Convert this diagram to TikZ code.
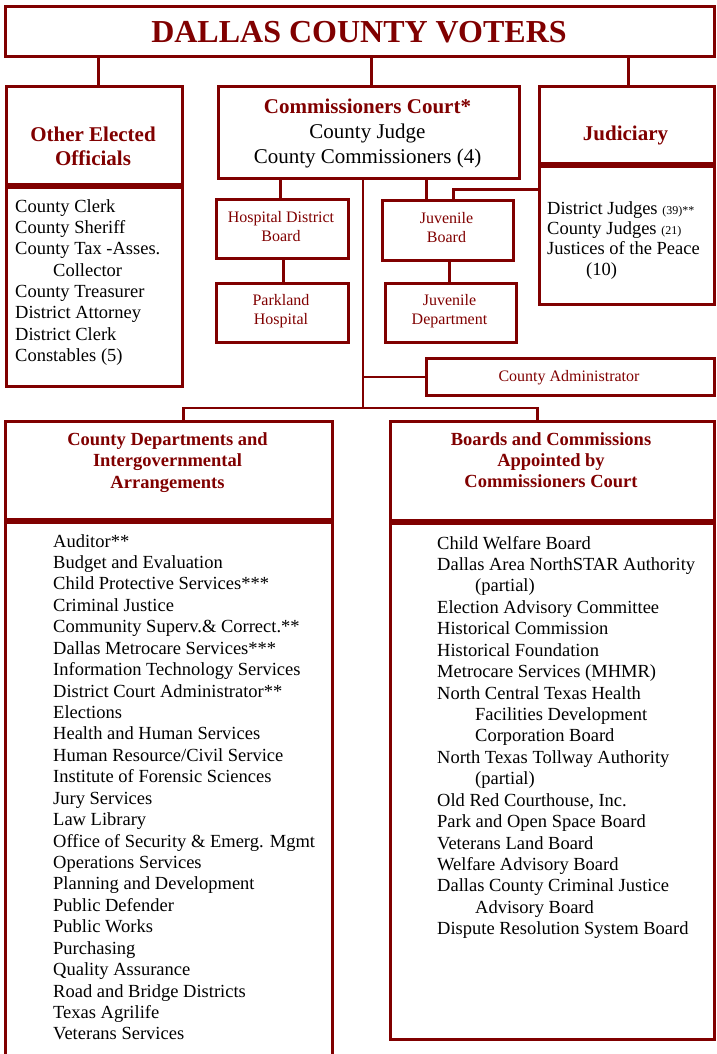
\documentclass[tikz,border=0pt]{standalone}
\usepackage{fontspec}
\setmainfont{Liberation Serif}
\definecolor{mar}{RGB}{128,0,0}
\begin{document}
\begin{tikzpicture}[x=1pt,y=-1pt,
  box/.style={draw=mar, line width=2.6pt, inner sep=0pt, anchor=north west, fill=none},
  conn/.style={draw=mar, line width=2.6pt},
  lt/.style={font=\fontsize{18.5}{21.4}\selectfont, anchor=base west, inner sep=0pt},
  hd/.style={font=\fontsize{21}{25}\selectfont\bfseries, text=mar, anchor=base, inner sep=0pt},
  hs/.style={font=\fontsize{18.5}{21.4}\selectfont\bfseries, text=mar, anchor=base, inner sep=0pt},
  bl/.style={font=\fontsize{21}{25}\selectfont, anchor=base, inner sep=0pt},
  sm/.style={font=\fontsize{16}{19}\selectfont, text=mar, anchor=base, inner sep=0pt}]
\useasboundingbox (0,0) rectangle (716,1054);
% boxes
\node[box, minimum width=709pt, minimum height=50pt] (title) at (4,5) {};
\node[box, minimum width=176pt, minimum height=98pt] (oeh) at (5,85) {};
\node[box, minimum width=176pt, minimum height=199pt] (oel) at (5,186) {};
\node[box, minimum width=301pt, minimum height=92pt] (comm) at (217,85) {};
\node[box, minimum width=175pt, minimum height=77pt] (judh) at (538,85) {};
\node[box, minimum width=175pt, minimum height=138pt] (judl) at (538,165) {};
\node[box, minimum width=132pt, minimum height=59pt] (hosp) at (215,198) {};
\node[box, minimum width=132pt, minimum height=59pt] (park) at (215,282) {};
\node[box, minimum width=131pt, minimum height=60pt] (juvB) at (381,199) {};
\node[box, minimum width=131pt, minimum height=59pt] (juvD) at (384,282) {};
\node[box, minimum width=288pt, minimum height=37pt] (admin) at (425,357) {};
\node[box, minimum width=327pt, minimum height=98pt] (cdh) at (4,420) {};
\node[box, minimum width=327pt, minimum height=560pt] (cdl) at (4,521) {};
\node[box, minimum width=324pt, minimum height=99pt] (bch) at (389,420) {};
\node[box, minimum width=324pt, minimum height=516pt] (bcl) at (389,522) {};
% connectors
\coordinate (hub) at (363,408);
\draw[conn] ([xshift=4pt]oeh.north) -- ([xshift=4pt]oeh.north |- title.south);
\draw[conn] ([xshift=2.5pt]comm.north) -- ([xshift=2.5pt]comm.north |- title.south);
\draw[conn] ([xshift=1.5pt]judh.north) -- ([xshift=1.5pt]judh.north |- title.south);
\draw[conn] ([xshift=-2pt]hosp.north) -- ([xshift=-2pt]hosp.north |- comm.south);
\draw[conn] ([xshift=1pt]park.north) -- ([xshift=1pt]park.north |- hosp.south);
\draw[conn] ([xshift=-21.5pt]juvB.north) -- ([xshift=-21.5pt]juvB.north |- comm.south);
\draw[conn] ([xshift=5.5pt]juvB.north) |- ([yshift=46pt]judl.west);
\draw[conn] ([xshift=-1.5pt]juvD.north) -- ([xshift=-1.5pt]juvD.north |- juvB.south);
\draw[conn] (hub |- comm.south) -- (hub);
\draw[conn] (admin.west) -- (admin.west -| hub);
\draw[conn] ([xshift=14.5pt]cdh.north) |- (hub) -| ([xshift=-15pt]bch.north);
% texts
\node[font=\fontsize{32}{36}\selectfont\bfseries, text=mar, anchor=base, inner sep=0pt] (titletxt) at (359,42.5) {DALLAS COUNTY VOTERS};
\node[hd] (oe1) at (93,141.5) {Other Elected};
\node[hd] (oe2) at (93,165.5) {Officials};
\node[hd] (cc1) at (367.5,113.5) {Commissioners Court*};
\node[bl] (cc2) at (367.5,138.5) {County Judge};
\node[bl] (cc3) at (367.5,163.5) {County Commissioners (4)};
\node[hd] (ju1) at (625.5,140) {Judiciary};
\node[sm] (ho1) at (281,222.5) {Hospital District};
\node[sm] (ho2) at (281,241) {Board};
\node[sm] (pa1) at (281,305.5) {Parkland};
\node[sm] (pa2) at (281,324) {Hospital};
\node[sm] (jb1) at (446.5,223.5) {Juvenile};
\node[sm] (jb2) at (446.5,242) {Board};
\node[sm] (jd1) at (449.5,305.5) {Juvenile};
\node[sm] (jd2) at (449.5,324) {Department};
\node[sm] (ad1) at (569,381) {County Administrator};
\node[hs] (cd1) at (167.5,445) {County Departments and};
\node[hs] (cd2) at (167.5,466.5) {Intergovernmental};
\node[hs] (cd3) at (167.5,488) {Arrangements};
\node[hs] (bc1) at (551,445) {Boards and Commissions};
\node[hs] (bc2) at (551,466.5) {Appointed by};
\node[hs] (bc3) at (551,487.5) {Commissioners Court};
% judiciary list
\node[lt] (jl1) at (547,214) {District Judges {\fontsize{12}{14}\selectfont (39)**}};
\node[lt] (jl2) at (547,234) {County Judges {\fontsize{12}{14}\selectfont (21)}};
\node[lt] (jl3) at (547,254.5) {Justices of the Peace};
\node[lt] (jl4) at (586,275) {(10)};
% other elected list
\foreach \x/\t [count=\i] in {15/County Clerk, 15/County Sheriff, 15/County Tax -Asses., 53/Collector, 15/County Treasurer, 15/District Attorney, 15/District Clerk, 15/{Constables (5)}}
  \node[lt] (oel\i) at (\x,{212.3+21.3*(\i-1)}) {\t};
% county departments list
\foreach \t [count=\i] in {Auditor**, Budget and Evaluation, Child Protective Services***, Criminal Justice, Community Superv.\& Correct.**, Dallas Metrocare Services***, Information Technology Services, District Court Administrator**, Elections, Health and Human Services, Human Resource/Civil Service, Institute of Forensic Sciences, Jury Services, Law Library, Office of Security \& Emerg. Mgmt, Operations Services, Planning and Development, Public Defender, Public Works, Purchasing, Quality Assurance, Road and Bridge Districts, Texas Agrilife, Veterans Services}
  \node[lt] (cdl\i) at (53,{547+21.43*(\i-1)}) {\t};
% boards list
\foreach \x/\t [count=\i] in {437/Child Welfare Board, 437/Dallas Area NorthSTAR Authority, 475/{(partial)}, 437/Election Advisory Committee, 437/Historical Commission, 437/Historical Foundation, 437/{Metrocare Services (MHMR)}, 437/North Central Texas Health, 475/Facilities Development, 475/Corporation Board, 437/North Texas Tollway Authority, 475/{(partial)}, 437/{Old Red Courthouse, Inc.}, 437/Park and Open Space Board, 437/Veterans Land Board, 437/Welfare Advisory Board, 437/Dallas County Criminal Justice, 475/Advisory Board, 437/Dispute Resolution System Board}
  \node[lt] (bcl\i) at (\x,{549+21.43*(\i-1)}) {\t};
\end{tikzpicture}
\end{document}
